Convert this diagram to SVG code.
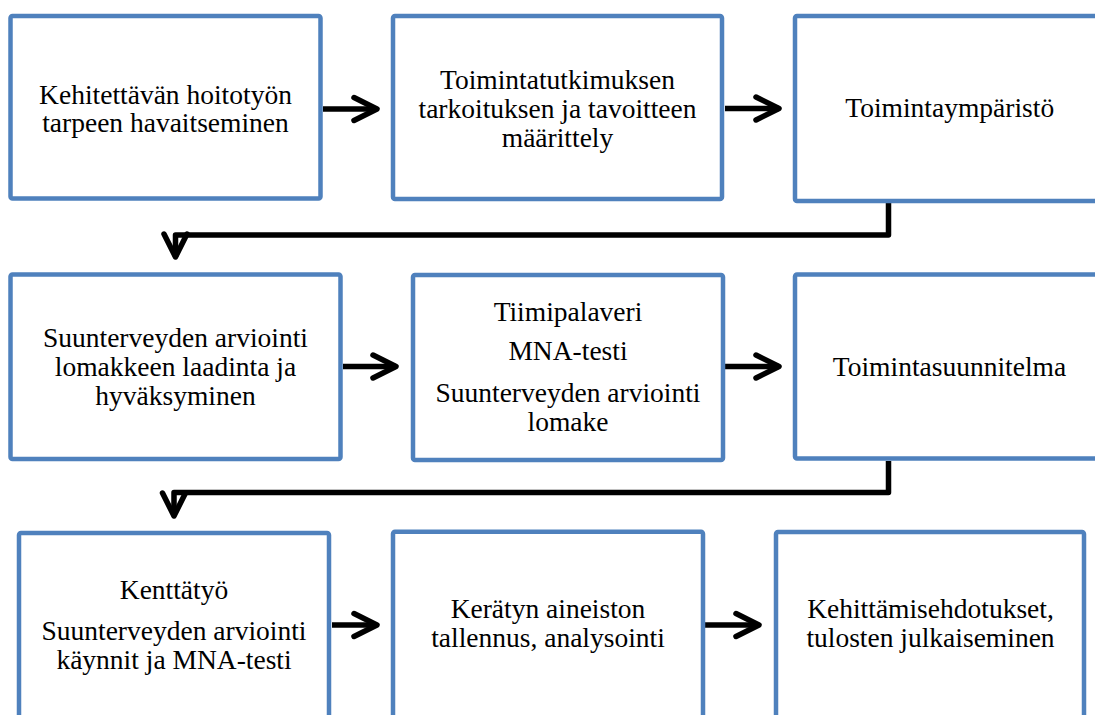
<svg xmlns="http://www.w3.org/2000/svg" width="1095" height="715" viewBox="0 0 1095 715">
<style>
.box{fill:#fff;stroke:#4F81BD;stroke-width:4.5}
.lbl{font-family:"Liberation Serif","Times New Roman",serif;font-size:27.5px;fill:#000;text-anchor:middle}
.con{fill:none;stroke:#000;stroke-width:5.5;stroke-linejoin:round;stroke-linecap:butt}
</style>
<defs>
<marker id="ah" markerUnits="userSpaceOnUse" markerWidth="40" markerHeight="40" viewBox="-30 -20 40 40" refX="0" refY="0" orient="auto" overflow="visible">
<path d="M-23,-11.5 L0,0 L-23,11.5" fill="none" stroke="#000" stroke-width="5.5" stroke-linecap="round" stroke-linejoin="round"/>
</marker>
</defs>
<rect width="1095" height="715" fill="#fff"/>
<g id="connectors">
<path class="con" d="M323,109 H377" marker-end="url(#ah)"/>
<path class="con" d="M725,108.5 H779" marker-end="url(#ah)"/>
<path class="con" d="M888.5,201 V235 H175.5 V257" marker-end="url(#ah)"/>
<path class="con" d="M343,366.5 H396" marker-end="url(#ah)"/>
<path class="con" d="M725,366.5 H779" marker-end="url(#ah)"/>
<path class="con" d="M888.5,461 V492.5 H174 V516" marker-end="url(#ah)"/>
<path class="con" d="M332,625 H377" marker-end="url(#ah)"/>
<path class="con" d="M705,625 H759" marker-end="url(#ah)"/>
</g>
<g id="n1">
<rect class="box" x="10.5" y="16" width="310" height="182.5" rx="2"/>
<text class="lbl" x="165.5" y="103.6">Kehitettävän hoitotyön</text>
<text class="lbl" x="165.5" y="132.2">tarpeen havaitseminen</text>
</g>
<g id="n2">
<rect class="box" x="393" y="16" width="329" height="183" rx="2"/>
<text class="lbl" x="557.5" y="89.3">Toimintatutkimuksen</text>
<text class="lbl" x="557.5" y="118.3">tarkoituksen ja tavoitteen</text>
<text class="lbl" x="557.5" y="146.9">määrittely</text>
</g>
<g id="n3">
<rect class="box" x="795" y="16" width="310" height="185" rx="2"/>
<text class="lbl" x="949.7" y="117.3">Toimintaympäristö</text>
</g>
<g id="n4">
<rect class="box" x="10.5" y="274.5" width="330" height="184.5" rx="2"/>
<text class="lbl" x="175.5" y="346.7">Suunterveyden arviointi</text>
<text class="lbl" x="175.5" y="375.7">lomakkeen laadinta ja</text>
<text class="lbl" x="175.5" y="404.5">hyväksyminen</text>
</g>
<g id="n5">
<rect class="box" x="413" y="275" width="310" height="185" rx="2"/>
<text class="lbl" x="568" y="321">Tiimipalaveri</text>
<text class="lbl" x="568" y="360">MNA-testi</text>
<text class="lbl" x="568" y="401.7">Suunterveyden arviointi</text>
<text class="lbl" x="568" y="430.5">lomake</text>
</g>
<g id="n6">
<rect class="box" x="795" y="274.5" width="310" height="184" rx="2"/>
<text class="lbl" x="949.5" y="376">Toimintasuunnitelma</text>
</g>
<g id="n7">
<rect class="box" x="19" y="533" width="310" height="200" rx="2"/>
<text class="lbl" x="174" y="599.3">Kenttätyö</text>
<text class="lbl" x="174" y="640">Suunterveyden arviointi</text>
<text class="lbl" x="174" y="668.6">käynnit ja MNA-testi</text>
</g>
<g id="n8">
<rect class="box" x="393" y="531.7" width="310" height="200" rx="2"/>
<text class="lbl" x="548" y="618.2">Kerätyn aineiston</text>
<text class="lbl" x="548" y="646.8">tallennus, analysointi</text>
</g>
<g id="n9">
<rect class="box" x="776" y="532" width="308" height="200" rx="2"/>
<text class="lbl" x="930.5" y="618.2">Kehittämisehdotukset,</text>
<text class="lbl" x="930.5" y="646.8">tulosten julkaiseminen</text>
</g>
</svg>
